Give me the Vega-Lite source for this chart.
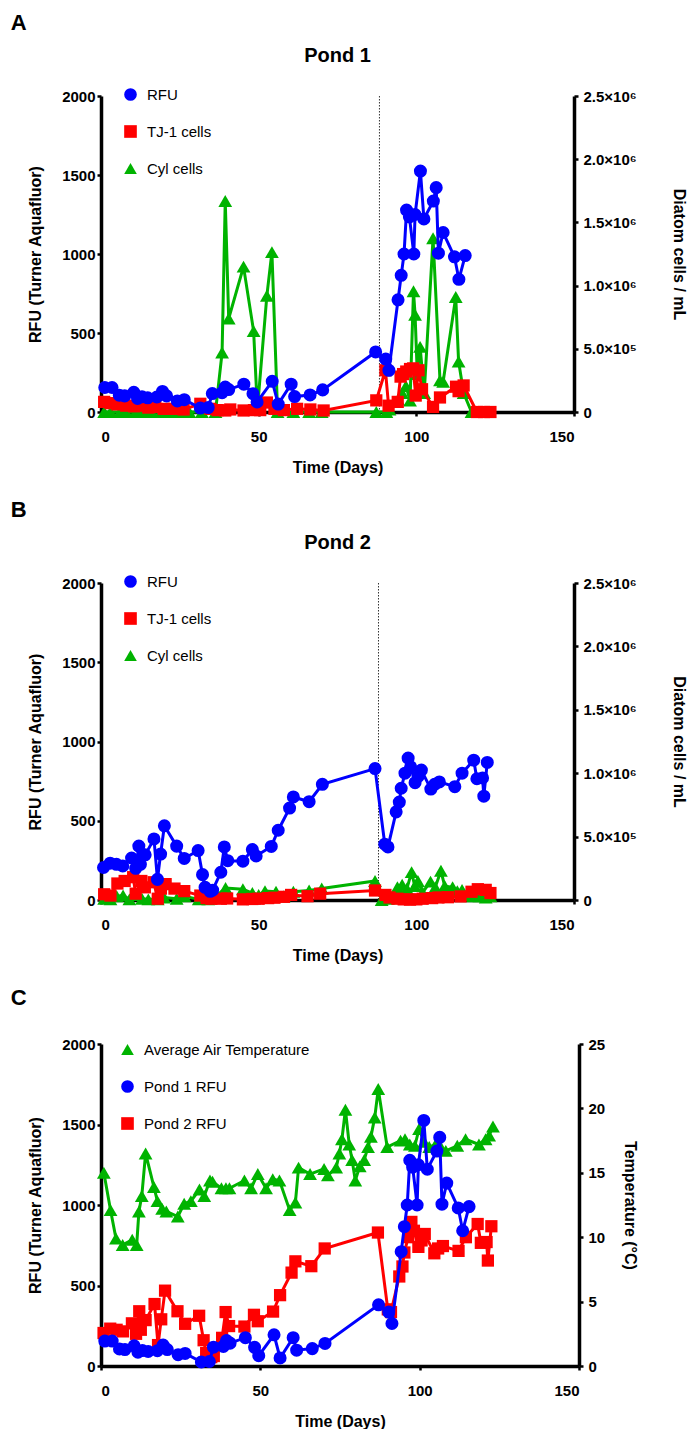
{
  "$schema": "https://vega.github.io/schema/vega-lite/v6.json",
  "autosize": {"type": "pad"},
  "padding": {"left": 10, "top": 12, "right": 0, "bottom": 0},
  "spacing": 24,
  "resolve": {"scale": {"color": "independent", "shape": "independent"}},
  "datasets": {
    "pond1_rfu": [
      {"day": 1.2, "rfu": 155}, {"day": 3.5, "rfu": 155}, {"day": 5.8, "rfu": 106}, {"day": 7.5, "rfu": 102},
      {"day": 10.4, "rfu": 125}, {"day": 11.6, "rfu": 86}, {"day": 13.0, "rfu": 96}, {"day": 14.8, "rfu": 90},
      {"day": 17.7, "rfu": 95}, {"day": 19.5, "rfu": 130}, {"day": 20.8, "rfu": 102}, {"day": 24.2, "rfu": 70},
      {"day": 26.4, "rfu": 78}, {"day": 31.5, "rfu": 25}, {"day": 34.0, "rfu": 28}, {"day": 35.3, "rfu": 117},
      {"day": 38.4, "rfu": 122}, {"day": 39.4, "rfu": 158}, {"day": 40.5, "rfu": 142}, {"day": 45.3, "rfu": 176},
      {"day": 48.2, "rfu": 116}, {"day": 49.5, "rfu": 64}, {"day": 54.3, "rfu": 194}, {"day": 56.2, "rfu": 50},
      {"day": 60.3, "rfu": 176}, {"day": 61.4, "rfu": 98}, {"day": 66.3, "rfu": 108}, {"day": 70.3, "rfu": 140},
      {"day": 87.1, "rfu": 380}, {"day": 90.3, "rfu": 335}, {"day": 91.3, "rfu": 264}, {"day": 94.2, "rfu": 710},
      {"day": 95.2, "rfu": 865}, {"day": 96.1, "rfu": 1000}, {"day": 96.9, "rfu": 1278}, {"day": 97.8, "rfu": 1235},
      {"day": 99.2, "rfu": 1000}, {"day": 99.6, "rfu": 1250}, {"day": 101.3, "rfu": 1525}, {"day": 102.4, "rfu": 1222},
      {"day": 105.4, "rfu": 1335}, {"day": 106.3, "rfu": 1420}, {"day": 107.0, "rfu": 1005}, {"day": 108.5, "rfu": 1136},
      {"day": 112.1, "rfu": 982}, {"day": 113.5, "rfu": 840}, {"day": 115.5, "rfu": 990}
    ],
    "pond1_tj1": [
      {"day": 1.0, "cells": 80000}, {"day": 3.0, "cells": 70000}, {"day": 5.2, "cells": 60000}, {"day": 8.0, "cells": 50000},
      {"day": 10.5, "cells": 45000}, {"day": 13.0, "cells": 50000}, {"day": 15.0, "cells": 35000}, {"day": 17.2, "cells": 40000},
      {"day": 19.9, "cells": 25000}, {"day": 23.0, "cells": 25000}, {"day": 26.2, "cells": 20000}, {"day": 31.5, "cells": 65000},
      {"day": 34.7, "cells": 25000}, {"day": 37.0, "cells": 15000}, {"day": 39.4, "cells": 12000}, {"day": 41.0, "cells": 20000},
      {"day": 45.2, "cells": 12000}, {"day": 48.5, "cells": 15000}, {"day": 50.5, "cells": 15000}, {"day": 52.6, "cells": 75000},
      {"day": 55.0, "cells": 25000}, {"day": 58.0, "cells": 15000}, {"day": 62.2, "cells": 25000}, {"day": 66.4, "cells": 20000},
      {"day": 70.6, "cells": 12000}, {"day": 87.3, "cells": 92000}, {"day": 90.2, "cells": 330000}, {"day": 91.2, "cells": 50000},
      {"day": 94.1, "cells": 80000}, {"day": 95.0, "cells": 280000}, {"day": 95.8, "cells": 300000}, {"day": 96.8, "cells": 320000},
      {"day": 98.0, "cells": 340000}, {"day": 99.0, "cells": 345000}, {"day": 99.8, "cells": 130000}, {"day": 100.7, "cells": 330000},
      {"day": 101.8, "cells": 180000}, {"day": 105.3, "cells": 40000}, {"day": 107.5, "cells": 115000}, {"day": 112.6, "cells": 200000},
      {"day": 113.4, "cells": 165000}, {"day": 115.0, "cells": 210000}, {"day": 119.2, "cells": 0}, {"day": 121.5, "cells": 0},
      {"day": 123.5, "cells": 0}
    ],
    "pond1_cyl": [
      {"day": 1.0, "cells": 0}, {"day": 3.0, "cells": 0}, {"day": 6.0, "cells": 0}, {"day": 8.0, "cells": 0},
      {"day": 11.0, "cells": 0}, {"day": 13.5, "cells": 0}, {"day": 16.0, "cells": 0}, {"day": 19.0, "cells": 0},
      {"day": 22.0, "cells": 0}, {"day": 25.0, "cells": 0}, {"day": 28.0, "cells": 0}, {"day": 32.0, "cells": 0},
      {"day": 36.3, "cells": 0}, {"day": 38.4, "cells": 470000}, {"day": 39.4, "cells": 1670000}, {"day": 40.5, "cells": 740000},
      {"day": 45.2, "cells": 1150000}, {"day": 48.4, "cells": 640000}, {"day": 49.6, "cells": 20000}, {"day": 52.6, "cells": 920000},
      {"day": 54.2, "cells": 1265000}, {"day": 56.0, "cells": 0}, {"day": 61.0, "cells": 0}, {"day": 66.0, "cells": 0},
      {"day": 70.0, "cells": 0}, {"day": 87.3, "cells": 0}, {"day": 90.5, "cells": 0}, {"day": 91.5, "cells": 20000},
      {"day": 94.2, "cells": 100000}, {"day": 95.5, "cells": 150000}, {"day": 96.7, "cells": 205000}, {"day": 98.0, "cells": 90000},
      {"day": 99.1, "cells": 955000}, {"day": 99.6, "cells": 770000}, {"day": 100.3, "cells": 300000}, {"day": 101.2, "cells": 515000},
      {"day": 102.5, "cells": 150000}, {"day": 105.3, "cells": 1375000}, {"day": 107.5, "cells": 250000}, {"day": 108.5, "cells": 240000},
      {"day": 112.5, "cells": 910000}, {"day": 113.4, "cells": 400000}, {"day": 115.0, "cells": 150000}, {"day": 117.5, "cells": 0}
    ],
    "pond2_rfu": [
      {"day": 0.8, "rfu": 205}, {"day": 2.9, "rfu": 232}, {"day": 4.9, "rfu": 225}, {"day": 6.9, "rfu": 215},
      {"day": 9.7, "rfu": 265}, {"day": 11.0, "rfu": 200}, {"day": 12.0, "rfu": 340}, {"day": 12.5, "rfu": 225},
      {"day": 14.0, "rfu": 285}, {"day": 16.8, "rfu": 385}, {"day": 17.9, "rfu": 130}, {"day": 18.9, "rfu": 290},
      {"day": 20.1, "rfu": 468}, {"day": 24.0, "rfu": 340}, {"day": 26.4, "rfu": 262}, {"day": 30.8, "rfu": 312},
      {"day": 32.2, "rfu": 160}, {"day": 33.0, "rfu": 80}, {"day": 34.6, "rfu": 55}, {"day": 35.4, "rfu": 62},
      {"day": 38.0, "rfu": 175}, {"day": 39.1, "rfu": 335}, {"day": 40.2, "rfu": 248}, {"day": 45.0, "rfu": 245},
      {"day": 48.0, "rfu": 318}, {"day": 49.2, "rfu": 278}, {"day": 54.0, "rfu": 338}, {"day": 56.2, "rfu": 440},
      {"day": 59.8, "rfu": 580}, {"day": 61.0, "rfu": 650}, {"day": 66.0, "rfu": 620}, {"day": 70.2, "rfu": 730},
      {"day": 86.9, "rfu": 829}, {"day": 90.0, "rfu": 352}, {"day": 91.0, "rfu": 335}, {"day": 93.6, "rfu": 556},
      {"day": 94.6, "rfu": 618}, {"day": 95.2, "rfu": 705}, {"day": 96.4, "rfu": 800}, {"day": 97.4, "rfu": 895},
      {"day": 98.2, "rfu": 840}, {"day": 99.6, "rfu": 740}, {"day": 100.6, "rfu": 780}, {"day": 101.6, "rfu": 820},
      {"day": 104.6, "rfu": 700}, {"day": 105.8, "rfu": 730}, {"day": 107.3, "rfu": 745}, {"day": 112.2, "rfu": 715},
      {"day": 114.5, "rfu": 800}, {"day": 118.2, "rfu": 882}, {"day": 119.2, "rfu": 765}, {"day": 121.0, "rfu": 770},
      {"day": 121.4, "rfu": 655}, {"day": 122.5, "rfu": 868}
    ],
    "pond2_tj1": [
      {"day": 1.0, "cells": 45000}, {"day": 3.0, "cells": 35000}, {"day": 5.2, "cells": 130000}, {"day": 7.5, "cells": 150000},
      {"day": 10.2, "cells": 180000}, {"day": 11.0, "cells": 50000}, {"day": 12.8, "cells": 150000}, {"day": 13.9, "cells": 100000},
      {"day": 16.7, "cells": 140000}, {"day": 18.0, "cells": 10000}, {"day": 19.0, "cells": 90000}, {"day": 20.5, "cells": 125000},
      {"day": 23.3, "cells": 90000}, {"day": 26.4, "cells": 70000}, {"day": 31.5, "cells": 35000}, {"day": 33.5, "cells": 15000},
      {"day": 35.0, "cells": 10000}, {"day": 38.0, "cells": 10000}, {"day": 40.0, "cells": 12000}, {"day": 45.0, "cells": 5000},
      {"day": 48.0, "cells": 8000}, {"day": 50.0, "cells": 10000}, {"day": 53.0, "cells": 15000}, {"day": 55.0, "cells": 18000},
      {"day": 58.0, "cells": 25000}, {"day": 60.3, "cells": 40000}, {"day": 65.5, "cells": 30000}, {"day": 69.5, "cells": 50000},
      {"day": 86.9, "cells": 75000}, {"day": 90.2, "cells": 40000}, {"day": 91.5, "cells": 20000}, {"day": 94.0, "cells": 10000},
      {"day": 96.0, "cells": 5000}, {"day": 98.0, "cells": 3000}, {"day": 100.0, "cells": 5000}, {"day": 102.0, "cells": 10000},
      {"day": 105.0, "cells": 15000}, {"day": 107.0, "cells": 20000}, {"day": 110.0, "cells": 22000}, {"day": 114.0, "cells": 28000},
      {"day": 117.5, "cells": 65000}, {"day": 119.5, "cells": 85000}, {"day": 122.0, "cells": 80000}, {"day": 123.5, "cells": 55000}
    ],
    "pond2_cyl": [
      {"day": 1.0, "cells": 10000}, {"day": 3.0, "cells": 5000}, {"day": 5.0, "cells": 30000}, {"day": 7.0, "cells": 35000},
      {"day": 9.0, "cells": 5000}, {"day": 11.0, "cells": 40000}, {"day": 13.0, "cells": 10000}, {"day": 15.0, "cells": 5000},
      {"day": 18.0, "cells": 5000}, {"day": 20.0, "cells": 20000}, {"day": 24.0, "cells": 10000}, {"day": 26.5, "cells": 30000},
      {"day": 31.0, "cells": 5000}, {"day": 34.0, "cells": 5000}, {"day": 36.0, "cells": 20000}, {"day": 39.5, "cells": 95000},
      {"day": 45.0, "cells": 85000}, {"day": 48.0, "cells": 55000}, {"day": 50.0, "cells": 40000}, {"day": 52.0, "cells": 70000},
      {"day": 55.5, "cells": 65000}, {"day": 58.0, "cells": 30000}, {"day": 61.0, "cells": 65000}, {"day": 66.0, "cells": 75000},
      {"day": 70.0, "cells": 90000}, {"day": 86.9, "cells": 150000}, {"day": 89.0, "cells": 0}, {"day": 91.0, "cells": 10000},
      {"day": 94.0, "cells": 100000}, {"day": 95.5, "cells": 120000}, {"day": 97.0, "cells": 90000}, {"day": 98.5, "cells": 220000},
      {"day": 99.5, "cells": 110000}, {"day": 100.5, "cells": 150000}, {"day": 102.0, "cells": 60000}, {"day": 104.5, "cells": 145000},
      {"day": 106.0, "cells": 100000}, {"day": 107.8, "cells": 230000}, {"day": 109.0, "cells": 110000}, {"day": 111.5, "cells": 100000},
      {"day": 113.0, "cells": 70000}, {"day": 114.5, "cells": 80000}, {"day": 116.0, "cells": 40000}, {"day": 118.0, "cells": 30000},
      {"day": 120.0, "cells": 30000}, {"day": 122.0, "cells": 20000}, {"day": 123.5, "cells": 30000}
    ],
    "air_temp": [
      {"day": 0.9, "temp": 15.0}, {"day": 3.0, "temp": 12.1}, {"day": 4.7, "temp": 9.9}, {"day": 6.8, "temp": 9.4},
      {"day": 9.8, "temp": 9.8}, {"day": 11.2, "temp": 9.4}, {"day": 11.9, "temp": 12.0}, {"day": 12.8, "temp": 13.2},
      {"day": 14.0, "temp": 16.5}, {"day": 16.6, "temp": 13.9}, {"day": 17.7, "temp": 12.8}, {"day": 19.2, "temp": 12.2},
      {"day": 20.5, "temp": 12.0}, {"day": 24.1, "temp": 11.6}, {"day": 26.1, "temp": 12.6}, {"day": 28.2, "temp": 12.8},
      {"day": 30.9, "temp": 13.7}, {"day": 32.4, "temp": 13.2}, {"day": 34.2, "temp": 14.4}, {"day": 35.0, "temp": 14.3},
      {"day": 37.8, "temp": 13.8}, {"day": 39.2, "temp": 13.8}, {"day": 40.3, "temp": 13.8}, {"day": 45.0, "temp": 14.4},
      {"day": 47.1, "temp": 13.8}, {"day": 49.2, "temp": 14.9}, {"day": 51.8, "temp": 13.8}, {"day": 53.9, "temp": 14.5},
      {"day": 56.0, "temp": 14.4}, {"day": 59.2, "temp": 12.1}, {"day": 61.0, "temp": 12.7}, {"day": 62.0, "temp": 15.4},
      {"day": 65.6, "temp": 14.9}, {"day": 70.0, "temp": 15.3}, {"day": 71.2, "temp": 14.8}, {"day": 73.8, "temp": 15.4},
      {"day": 74.8, "temp": 16.5}, {"day": 75.6, "temp": 17.6}, {"day": 76.7, "temp": 19.9}, {"day": 77.9, "temp": 17.2},
      {"day": 78.8, "temp": 16.0}, {"day": 79.8, "temp": 14.4}, {"day": 81.2, "temp": 15.5}, {"day": 82.6, "temp": 16.0},
      {"day": 83.8, "temp": 17.0}, {"day": 84.7, "temp": 17.8}, {"day": 85.9, "temp": 19.3}, {"day": 87.0, "temp": 21.5},
      {"day": 89.8, "temp": 17.0}, {"day": 94.0, "temp": 17.5}, {"day": 95.4, "temp": 17.6}, {"day": 96.9, "temp": 17.2},
      {"day": 98.5, "temp": 17.1}, {"day": 99.8, "temp": 18.4}, {"day": 101.4, "temp": 17.4}, {"day": 103.0, "temp": 17.0},
      {"day": 105.0, "temp": 17.2}, {"day": 106.6, "temp": 17.0}, {"day": 108.2, "temp": 16.7}, {"day": 111.8, "temp": 17.1},
      {"day": 114.4, "temp": 17.6}, {"day": 118.6, "temp": 17.2}, {"day": 120.7, "temp": 17.6}, {"day": 121.8, "temp": 17.9},
      {"day": 123.0, "temp": 18.6}
    ]
  },
  "vconcat": [
    {
      "title": {"text": "A", "anchor": "start", "frame": "bounds", "dx": -17, "fontSize": 22, "offset": 11},
      "vconcat": [
        {
          "title": {"text": "Pond 1", "fontSize": 20, "offset": 23},
          "width": 473,
          "height": 316,
          "encoding": {
            "x": {"field": "day", "type": "quantitative", "scale": {"domain": [0, 150], "nice": false},
                  "axis": {"values": [0, 50, 100, 150], "title": "Time (Days)", "labelPadding": 13, "titlePadding": 15}}
          },
          "layer": [
            {"data": {"values": [{"day": 88.3}]}, "mark": {"type": "rule", "strokeDash": [1.5, 1.5], "strokeWidth": 1, "color": "#333333"}},
            {
              "encoding": {
                "y": {"field": "cells", "type": "quantitative", "scale": {"domain": [0, 2500000], "nice": false},
                      "axis": {"orient": "right", "values": [0, 500000, 1000000, 1500000, 2000000, 2500000], "title": "Diatom cells / mL", "labelPadding": 5, "titlePadding": 34,
                               "labelExpr": "datum.value == 0 ? '0' : datum.value >= 1000000 ? format(datum.value / 1000000, '.1f') + '×10⁶' : format(datum.value / 100000, '.1f') + '×10⁵'"}}
              },
              "layer": [
                {"data": {"name": "pond1_cyl"}, "mark": {"type": "line", "strokeWidth": 3},
                 "encoding": {"color": {"datum": "Cyl cells", "scale": {"domain": ["RFU", "TJ-1 cells", "Cyl cells"], "range": ["#0000FF", "#FF0000", "#00B300"]}, "legend": {"title": null, "orient": "none", "legendX": 22, "legendY": -9}}}},
                {"data": {"name": "pond1_cyl"}, "mark": {"type": "point", "filled": true, "size": 190, "opacity": 1},
                 "encoding": {"color": {"datum": "Cyl cells"}, "shape": {"datum": "Cyl cells", "scale": {"domain": ["RFU", "TJ-1 cells", "Cyl cells"], "range": ["circle", "square", "triangle-up"]}, "legend": {"title": null, "orient": "none", "legendX": 22, "legendY": -9}}}},
                {"data": {"name": "pond1_tj1"}, "mark": {"type": "line", "strokeWidth": 3},
                 "encoding": {"color": {"datum": "TJ-1 cells"}}},
                {"data": {"name": "pond1_tj1"}, "mark": {"type": "point", "filled": true, "size": 150, "opacity": 1},
                 "encoding": {"color": {"datum": "TJ-1 cells"}, "shape": {"datum": "TJ-1 cells"}}}
              ]
            },
            {
              "data": {"name": "pond1_rfu"},
              "encoding": {
                "y": {"field": "rfu", "type": "quantitative", "scale": {"domain": [0, 2000], "nice": false},
                      "axis": {"orient": "left", "values": [0, 500, 1000, 1500, 2000], "format": "d", "title": "RFU (Turner Aquafluor)", "labelPadding": 2, "titlePadding": 18}},
                "color": {"datum": "RFU"}
              },
              "layer": [
                {"mark": {"type": "line", "strokeWidth": 3}},
                {"mark": {"type": "point", "filled": true, "size": 170, "opacity": 1}, "encoding": {"shape": {"datum": "RFU"}}}
              ]
            }
          ],
          "resolve": {"scale": {"y": "independent"}}
        }
      ]
    },
    {
      "title": {"text": "B", "anchor": "start", "frame": "bounds", "dx": -17, "fontSize": 22, "offset": 11},
      "vconcat": [
        {
          "title": {"text": "Pond 2", "fontSize": 20, "offset": 23},
          "width": 473,
          "height": 317,
          "encoding": {
            "x": {"field": "day", "type": "quantitative", "scale": {"domain": [0, 150], "nice": false},
                  "axis": {"values": [0, 50, 100, 150], "title": "Time (Days)", "labelPadding": 13, "titlePadding": 15}}
          },
          "layer": [
            {"data": {"values": [{"day": 88.0}]}, "mark": {"type": "rule", "strokeDash": [1.5, 1.5], "strokeWidth": 1, "color": "#333333"}},
            {
              "encoding": {
                "y": {"field": "cells", "type": "quantitative", "scale": {"domain": [0, 2500000], "nice": false},
                      "axis": {"orient": "right", "values": [0, 500000, 1000000, 1500000, 2000000, 2500000], "title": "Diatom cells / mL", "labelPadding": 5, "titlePadding": 34,
                               "labelExpr": "datum.value == 0 ? '0' : datum.value >= 1000000 ? format(datum.value / 1000000, '.1f') + '×10⁶' : format(datum.value / 100000, '.1f') + '×10⁵'"}}
              },
              "layer": [
                {"data": {"name": "pond2_cyl"}, "mark": {"type": "line", "strokeWidth": 3},
                 "encoding": {"color": {"datum": "Cyl cells", "scale": {"domain": ["RFU", "TJ-1 cells", "Cyl cells"], "range": ["#0000FF", "#FF0000", "#00B300"]}, "legend": {"title": null, "orient": "none", "legendX": 22, "legendY": -9}}}},
                {"data": {"name": "pond2_cyl"}, "mark": {"type": "point", "filled": true, "size": 190, "opacity": 1},
                 "encoding": {"color": {"datum": "Cyl cells"}, "shape": {"datum": "Cyl cells", "scale": {"domain": ["RFU", "TJ-1 cells", "Cyl cells"], "range": ["circle", "square", "triangle-up"]}, "legend": {"title": null, "orient": "none", "legendX": 22, "legendY": -9}}}},
                {"data": {"name": "pond2_tj1"}, "mark": {"type": "line", "strokeWidth": 3},
                 "encoding": {"color": {"datum": "TJ-1 cells"}}},
                {"data": {"name": "pond2_tj1"}, "mark": {"type": "point", "filled": true, "size": 150, "opacity": 1},
                 "encoding": {"color": {"datum": "TJ-1 cells"}, "shape": {"datum": "TJ-1 cells"}}}
              ]
            },
            {
              "data": {"name": "pond2_rfu"},
              "encoding": {
                "y": {"field": "rfu", "type": "quantitative", "scale": {"domain": [0, 2000], "nice": false},
                      "axis": {"orient": "left", "values": [0, 500, 1000, 1500, 2000], "format": "d", "title": "RFU (Turner Aquafluor)", "labelPadding": 2, "titlePadding": 18}},
                "color": {"datum": "RFU"}
              },
              "layer": [
                {"mark": {"type": "line", "strokeWidth": 3}},
                {"mark": {"type": "point", "filled": true, "size": 170, "opacity": 1}, "encoding": {"shape": {"datum": "RFU"}}}
              ]
            }
          ],
          "resolve": {"scale": {"y": "independent"}}
        }
      ]
    },
    {
      "title": {"text": "C", "anchor": "start", "frame": "bounds", "dx": -17, "fontSize": 22, "offset": 27},
      "width": 478,
      "height": 322,
      "encoding": {
        "x": {"field": "day", "type": "quantitative", "scale": {"domain": [0, 150], "nice": false},
              "axis": {"values": [0, 50, 100, 150], "title": "Time (Days)", "labelPadding": 13, "titlePadding": 15}}
      },
      "layer": [
        {
          "data": {"name": "air_temp"},
          "encoding": {
            "y": {"field": "temp", "type": "quantitative", "scale": {"domain": [0, 25], "nice": false},
                  "axis": {"orient": "right", "values": [0, 5, 10, 15, 20, 25], "title": "Temperature (°C)", "labelPadding": 5, "titlePadding": 17}},
            "color": {"datum": "Average Air Temperature", "scale": {"domain": ["Average Air Temperature", "Pond 1 RFU", "Pond 2 RFU"], "range": ["#00B300", "#0000FF", "#FF0000"]}, "legend": {"title": null, "orient": "none", "legendX": 19, "legendY": -2}}
          },
          "layer": [
            {"mark": {"type": "line", "strokeWidth": 3}},
            {"mark": {"type": "point", "filled": true, "size": 190, "opacity": 1},
             "encoding": {"shape": {"datum": "Average Air Temperature", "scale": {"domain": ["Average Air Temperature", "Pond 1 RFU", "Pond 2 RFU"], "range": ["triangle-up", "circle", "square"]}, "legend": {"title": null, "orient": "none", "legendX": 19, "legendY": -2}}}}
          ]
        },
        {
          "encoding": {
            "y": {"field": "rfu", "type": "quantitative", "scale": {"domain": [0, 2000], "nice": false},
                  "axis": {"orient": "left", "values": [0, 500, 1000, 1500, 2000], "format": "d", "title": "RFU (Turner Aquafluor)", "labelPadding": 2, "titlePadding": 18}}
          },
          "layer": [
            {"data": {"name": "pond2_rfu"}, "mark": {"type": "line", "strokeWidth": 3}, "encoding": {"color": {"datum": "Pond 2 RFU"}}},
            {"data": {"name": "pond2_rfu"}, "mark": {"type": "point", "filled": true, "size": 150, "opacity": 1}, "encoding": {"color": {"datum": "Pond 2 RFU"}, "shape": {"datum": "Pond 2 RFU"}}},
            {"data": {"name": "pond1_rfu"}, "mark": {"type": "line", "strokeWidth": 3}, "encoding": {"color": {"datum": "Pond 1 RFU"}}},
            {"data": {"name": "pond1_rfu"}, "mark": {"type": "point", "filled": true, "size": 170, "opacity": 1}, "encoding": {"color": {"datum": "Pond 1 RFU"}, "shape": {"datum": "Pond 1 RFU"}}}
          ]
        }
      ],
      "resolve": {"scale": {"y": "independent"}}
    }
  ],
  "config": {
    "font": "Liberation Sans",
    "view": {"stroke": null},
    "axis": {
      "grid": false,
      "domainColor": "black", "domainWidth": 3.5,
      "tickColor": "black", "tickWidth": 2.5, "tickSize": 4,
      "labelFont": "Liberation Sans", "labelFontWeight": "bold", "labelFontSize": 15, "labelColor": "black",
      "titleFont": "Liberation Sans", "titleFontWeight": "bold", "titleFontSize": 16, "titleColor": "black"
    },
    "legend": {
      "labelFont": "Liberation Sans", "labelFontSize": 15, "labelColor": "black", "labelLimit": 0,
      "symbolSize": 160, "symbolStrokeWidth": 0, "rowPadding": 21, "labelOffset": 9, "padding": 0
    },
    "title": {"font": "Liberation Sans", "fontWeight": "bold", "color": "black"}
  }
}
